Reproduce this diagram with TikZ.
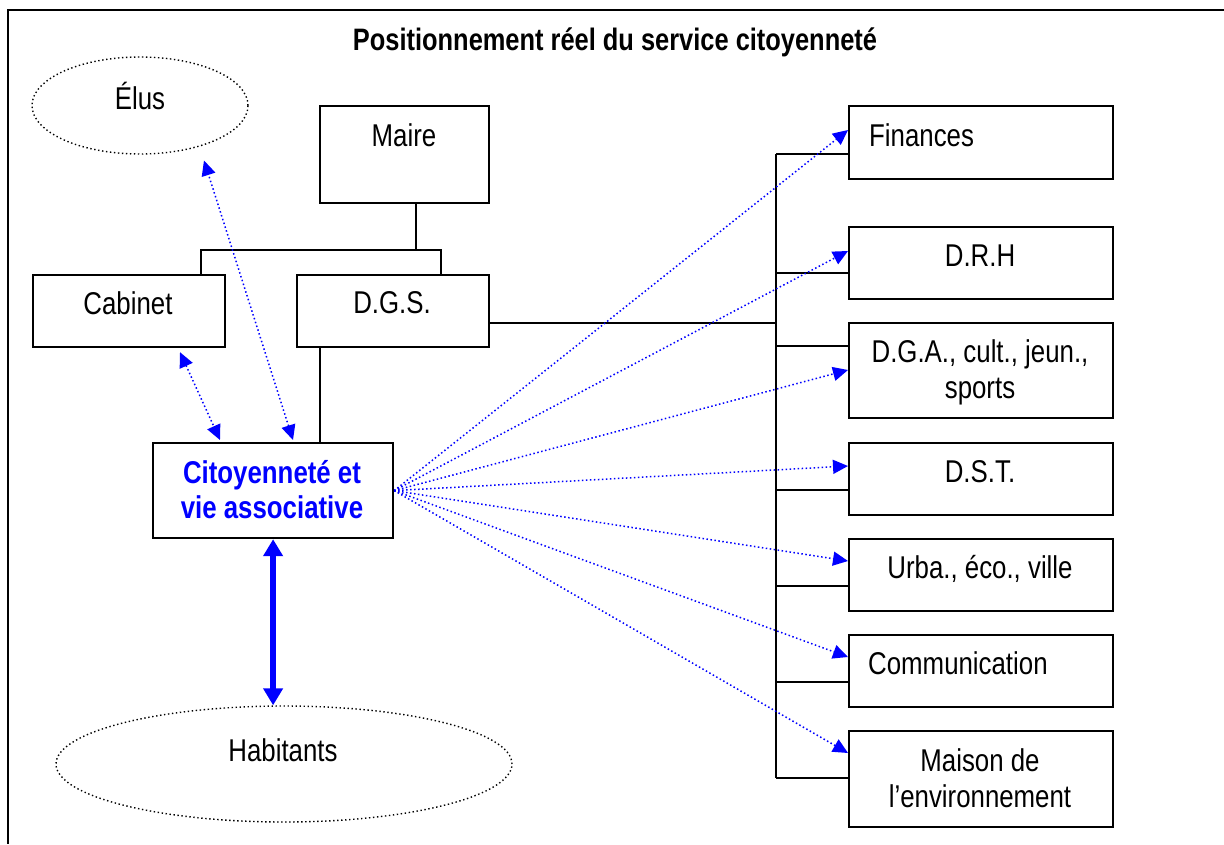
\documentclass[tikz,border=0pt]{standalone}
\usepackage{fontspec}
\setmainfont{Liberation Sans}[FakeStretch=0.82]
\usetikzlibrary{arrows.meta,shapes.geometric,calc}
\definecolor{linkblue}{RGB}{0,0,255}
\begin{document}
\begin{tikzpicture}[x=1pt,y=-1pt,
  box/.style={draw,line width=2.2pt,inner sep=0pt,anchor=north west},
  oval/.style={ellipse,draw,line width=1.4pt,dash pattern=on 1.4pt off 2.6pt,inner sep=0pt},
  txt/.style={anchor=base,inner sep=0pt,align=center,font=\fontsize{31.5}{35.5}\selectfont},
  wire/.style={line width=2.2pt},
  link/.style={linkblue,line width=1.5pt,dash pattern=on 1.5pt off 2.5pt,-{Triangle[length=15pt,width=14pt]}},
  linkboth/.style={link,{Triangle[length=15pt,width=14pt]}-{Triangle[length=15pt,width=14pt]}},
  heavy/.style={linkblue,line width=6pt,{Triangle[length=17pt,width=19pt]}-{Triangle[length=17pt,width=19pt]}}]
\useasboundingbox (0,0) rectangle (1224,844);

% outer frame
\draw[wire] (1224,10) -| (8,844);

% title
\node[txt,font=\fontsize{31}{35}\selectfont\bfseries] (title) at (615,50) {Positionnement réel du service citoyenneté};

% ovals
\node[oval,minimum width=216pt,minimum height=97pt] (elus) at (140,105.5) {};
\node[txt] (elus-t) at (140,109) {Élus};
\node[oval,minimum width=456pt,minimum height=116pt] (hab) at (284,764) {};
\node[txt] (hab-t) at (283,761) {Habitants};

% left boxes
\node[box,minimum width=169pt,minimum height=97pt] (maire) at (319,105) {};
\node[txt] (maire-t) at (404,146) {Maire};
\node[box,minimum width=192pt,minimum height=72pt] (cab) at (32,274) {};
\node[txt] (cab-t) at (128,314) {Cabinet};
\node[box,minimum width=192pt,minimum height=72pt] (dgs) at (296,274) {};
\node[txt] (dgs-t) at (392,313) {D.G.S.};
\node[box,minimum width=240pt,minimum height=95pt] (cit) at (152,442) {};
\node[txt,text=linkblue,font=\fontsize{31.5}{35}\selectfont\bfseries] (cit-t) at (272,518) {Citoyenneté et\\vie associative};

% right column of services
\node[box,minimum width=264pt,minimum height=73pt] (fin) at (848,105) {};
\node[txt,anchor=base west] (fin-t) at (869,146) {Finances};
\node[box,minimum width=264pt,minimum height=72pt] (drh) at (848,226) {};
\node[txt] (drh-t) at (980,266) {D.R.H};
\node[box,minimum width=264pt,minimum height=95pt] (dga) at (848,322) {};
\node[txt] (dga-t) at (980,398) {D.G.A., cult., jeun.,\\sports};
\node[box,minimum width=264pt,minimum height=72pt] (dst) at (848,442) {};
\node[txt] (dst-t) at (980,482) {D.S.T.};
\node[box,minimum width=264pt,minimum height=72pt] (urba) at (848,538) {};
\node[txt] (urba-t) at (980,578) {Urba., éco., ville};
\node[box,minimum width=264pt,minimum height=72pt] (comm) at (848,634) {};
\node[txt,anchor=base west] (comm-t) at (868,674) {Communication};
\node[box,minimum width=264pt,minimum height=96pt] (mais) at (848,730) {};
\node[txt] (mais-t) at (980,807) {Maison de\\l’environnement};

% hierarchy lines
\coordinate (j) at (416,250);
\coordinate (busx) at (776,0);
\draw[wire] (maire.south -| j) -- (j);
\draw[wire] ([xshift=72pt]cab.north) |- (j) -| ([xshift=48pt]dgs.north);
\draw[wire] ([xshift=24pt]dgs.south west) -- ([xshift=24pt]dgs.south west |- cit.north);
\draw[wire] ([yshift=-12pt]dgs.east) -- ([yshift=-12pt]dgs.east -| busx);
\draw[wire] ([yshift=-49pt]fin.north west -| busx) -- ([yshift=-48pt]mais.north west -| busx);
\foreach \b/\d in {fin/49,drh/47,dga/24,dst/48,urba/48,comm/48,mais/48}
  \draw[wire] ([yshift=-\d pt]\b.north west) -- ([yshift=-\d pt]\b.north west -| busx);

% information links
\foreach \b/\d in {fin/25,drh/25,dga/48,dst/24,urba/23,comm/23,mais/23}
  \draw[link] (cit.east) -- ([yshift=-\d pt]\b.north west);
\draw[linkboth] ([shift={(148pt,-4pt)}]cab.south west) -- ([shift={(68pt,2pt)}]cit.north west);
\draw[linkboth] ([shift={(141pt,2pt)}]cit.north west) -- ([shift={(64pt,-55pt)}]elus.center);
\draw[heavy] (cit.south) -- (cit.south |- hab.north);
\end{tikzpicture}
\end{document}
